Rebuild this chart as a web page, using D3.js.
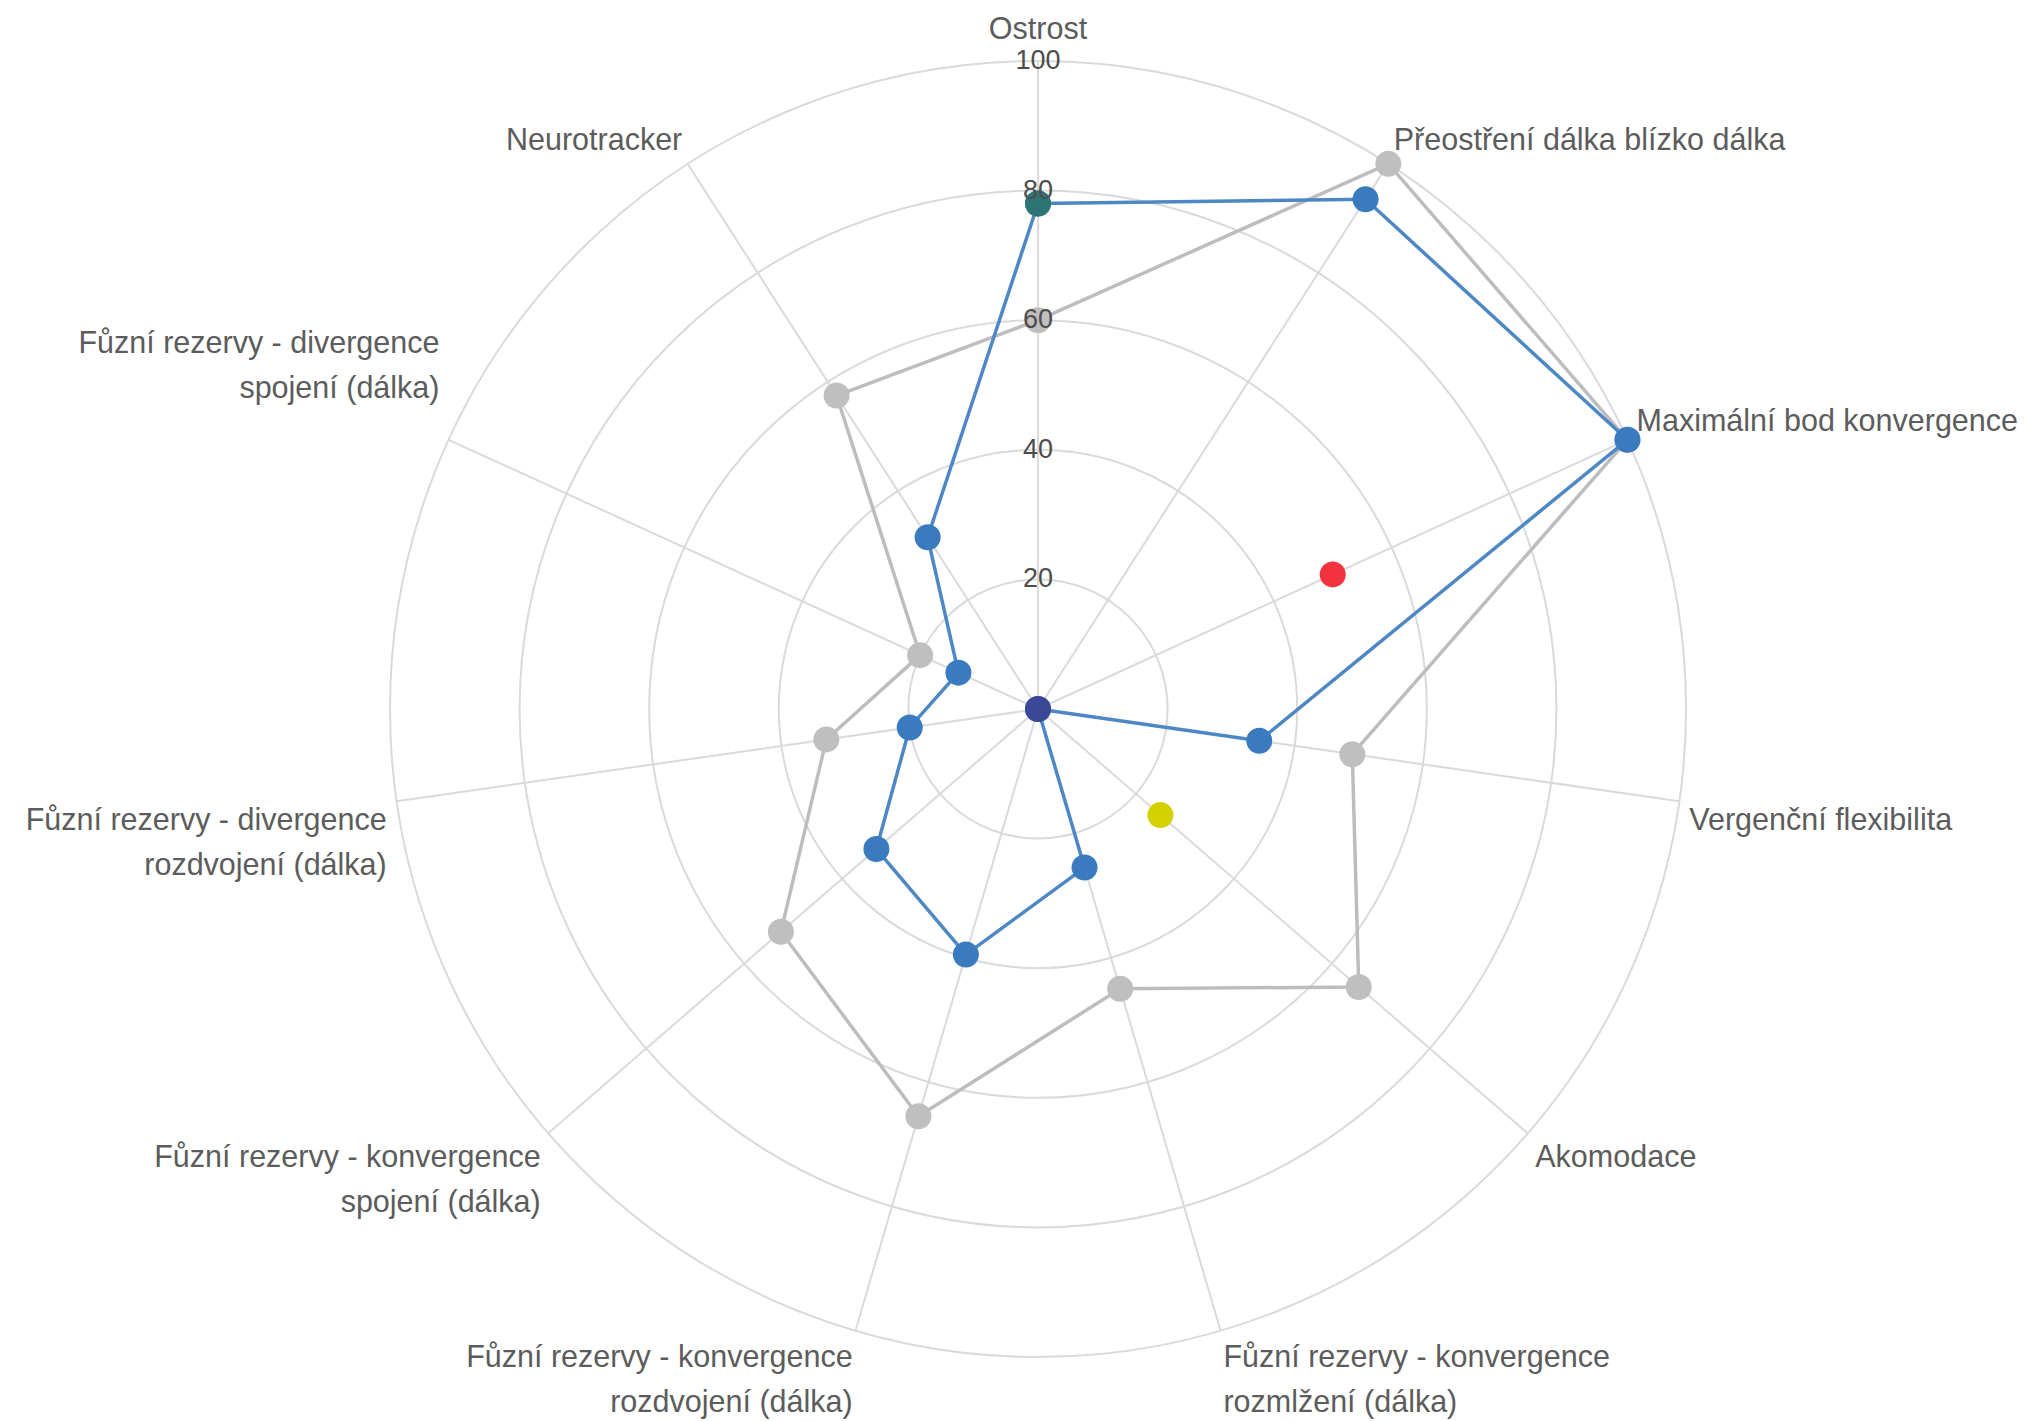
<!DOCTYPE html>
<html>
<head>
<meta charset="utf-8">
<script src="https://cdn.jsdelivr.net/npm/d3@7"></script>
<style>
  html, body { margin: 0; padding: 0; background: #fff; }
  svg { display: block; }
</style>
</head>
<body>
<div id="chart"></div>
<script>
// axis labels, one entry per spoke (multi-line where the chart wraps)
const axisLabels = [
  ["Ostrost"],
  ["Přeostření dálka blízko dálka"],
  ["Maximální bod konvergence"],
  ["Vergenční flexibilita"],
  ["Akomodace"],
  ["Fůzní rezervy - konvergence", "rozmlžení (dálka)"],
  ["Fůzní rezervy - konvergence", "rozdvojení (dálka)"],
  ["Fůzní rezervy - konvergence", "spojení (dálka)"],
  ["Fůzní rezervy - divergence", "rozdvojení (dálka)"],
  ["Fůzní rezervy - divergence", "spojení (dálka)"],
  ["Neurotracker"]
];

const tickValues = [20, 40, 60, 80, 100];

const grayValues = [60, 100, 100, 49, 65.5, 45, 65.5, 52.5, 33, 20, 57.5];
const blueValues = [78, 93.5, 100, 34.5, 0, 25.5, 39.5, 33, 20, 13.5, 31.5];

// single-point series (null = no point on that spoke)
const tealValues   = [78, null, null, null, null, null, null, null, null, null, null];
const redValues    = [null, null, 50, null, null, null, null, null, null, null, null];
const yellowValues = [null, null, null, null, 25, null, null, null, null, null, null];
const navyValues   = [null, null, null, null, 0, null, null, null, null, null, null];

const W = 2031, H = 1421;
const cx = 1038, cy = 709, R = 648;
const n = axisLabels.length;

const svg = d3.select("#chart").append("svg")
  .attr("width", W)
  .attr("height", H)
  .attr("viewBox", [0, 0, W, H]);

const r = d3.scaleLinear().domain([0, 100]).range([0, R]);
const angle = d3.scaleLinear().domain([0, n]).range([0, 2 * Math.PI]);

const g = svg.append("g").attr("transform", `translate(${cx},${cy})`);

const gridColor = "#dadada";

// rings
g.append("g").selectAll("circle")
  .data(tickValues)
  .join("circle")
  .attr("r", d => r(d))
  .attr("fill", "none")
  .attr("stroke", gridColor)
  .attr("stroke-width", 2);

// spokes
g.append("g").selectAll("line")
  .data(axisLabels)
  .join("line")
  .attr("x1", 0).attr("y1", 0)
  .attr("x2", (d, i) => r(100) * Math.sin(angle(i)))
  .attr("y2", (d, i) => -r(100) * Math.cos(angle(i)))
  .attr("stroke", gridColor)
  .attr("stroke-width", 2);

// point labels round the outside
const labelFont = 30.5, lineGap = 45, pad = 10;
const gLabels = g.append("g")
  .attr("font-family", "'Liberation Sans', Arial, sans-serif")
  .attr("font-size", labelFont)
  .attr("fill", "#5c5c5c");

axisLabels.forEach((lines, i) => {
  const a = angle(i);
  const deg = a * 180 / Math.PI;
  const ax = (R + pad) * Math.sin(a);
  const ay = -(R + pad) * Math.cos(a);
  let anchor = "middle";
  if (deg > 0.5 && deg < 179.5) anchor = "start";
  else if (deg > 180.5) anchor = "end";
  const bottom = deg > 90 && deg < 270;
  let firstY = bottom
    ? ay + 16
    : ay - 16 - (lines.length - 1) * 33 - (lines.length - 1) * lineGap;
  // top label sits just clear of the "100" tick
  if (anchor === "middle" && !bottom) firstY -= 7;
  const t = gLabels.append("text")
    .attr("text-anchor", anchor)
    .attr("dominant-baseline", "central");
  lines.forEach((s, k) => {
    t.append("tspan")
      .attr("x", ax)
      .attr("y", firstY + k * lineGap)
      .text(s);
  });
});

const radialLine = d3.lineRadial()
  .angle((d, i) => angle(i))
  .radius(d => r(d))
  .curve(d3.curveLinearClosed);

function drawSeries(values, lineColor, pointColor, withLine) {
  const s = g.append("g");
  if (withLine) {
    s.append("path")
      .datum(values)
      .attr("d", radialLine)
      .attr("fill", "none")
      .attr("stroke", lineColor)
      .attr("stroke-width", 3.5)
      .attr("stroke-linejoin", "round");
  }
  s.selectAll("circle")
    .data(values.map((v, i) => ({ v, i })).filter(d => d.v != null))
    .join("circle")
    .attr("cx", d => r(d.v) * Math.sin(angle(d.i)))
    .attr("cy", d => -r(d.v) * Math.cos(angle(d.i)))
    .attr("r", 13)
    .attr("fill", pointColor);
}

drawSeries(grayValues, "#bdbdbd", "#bfbfbf", true);
drawSeries(blueValues, "#4d88c4", "#3a7bc0", true);
drawSeries(tealValues, null, "#2d7474", false);
drawSeries(redValues, null, "#f2333f", false);
drawSeries(yellowValues, null, "#d3d200", false);
drawSeries(navyValues, null, "#3b4897", false);

// tick labels up the top spoke, drawn over the data as in the original
g.append("g").selectAll("text")
  .data(tickValues)
  .join("text")
  .attr("x", 0)
  .attr("y", d => -r(d) - 1)
  .attr("text-anchor", "middle")
  .attr("dominant-baseline", "central")
  .attr("font-family", "'Liberation Sans', Arial, sans-serif")
  .attr("font-size", 27)
  .attr("fill", "#4d4d4d")
  .text(d => d);
</script>
</body>
</html>
